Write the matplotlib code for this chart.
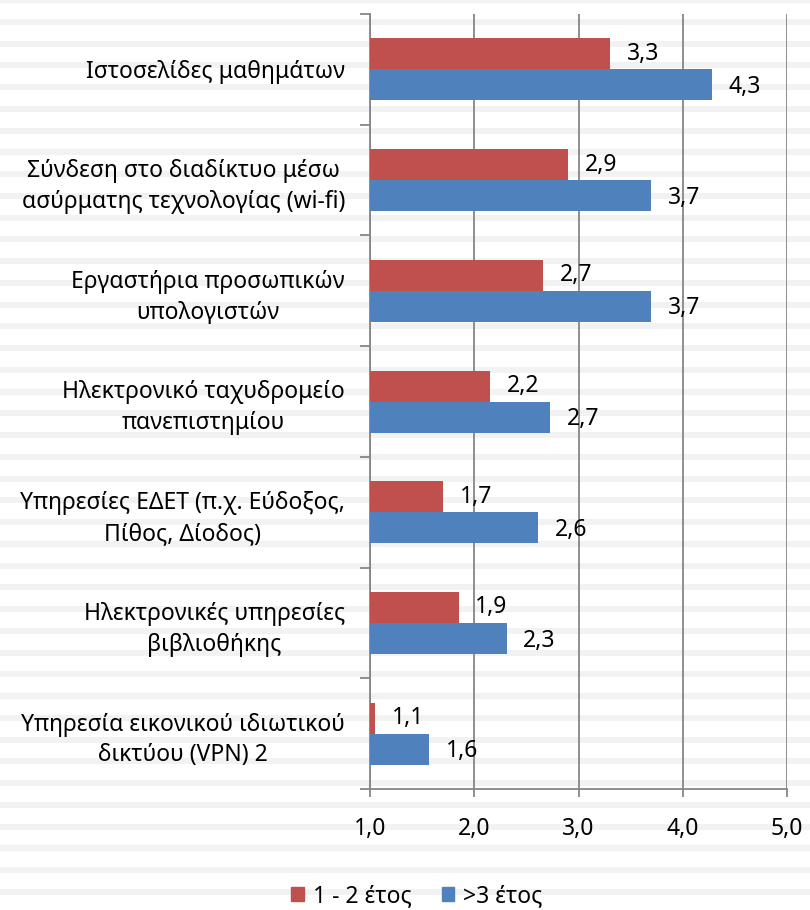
import matplotlib
matplotlib.use("Agg")
import matplotlib.pyplot as plt
from matplotlib.patches import Rectangle
from matplotlib.ticker import FixedLocator
import numpy as np

categories = [
    "Ιστοσελίδες μαθημάτων",
    "Σύνδεση στο διαδίκτυο μέσω\nασύρματης τεχνολογίας (wi-fi)",
    "Εργαστήρια προσωπικών\nυπολογιστών",
    "Ηλεκτρονικό ταχυδρομείο\nπανεπιστημίου",
    "Υπηρεσίες ΕΔΕΤ (π.χ. Εύδοξος,\nΠίθος, Δίοδος)",
    "Ηλεκτρονικές υπηρεσίες\nβιβλιοθήκης",
    "Υπηρεσία εικονικού ιδιωτικού\nδικτύου (VPN) 2",
]
years_1_2 = [3.30, 2.90, 2.66, 2.15, 1.70, 1.85, 1.05]
labels_1_2 = ["3,3", "2,9", "2,7", "2,2", "1,7", "1,9", "1,1"]
years_3 = [4.28, 3.70, 3.70, 2.73, 2.61, 2.31, 1.57]
labels_3 = ["4,3", "3,7", "3,7", "2,7", "2,6", "2,3", "1,6"]
series_names = ["1 - 2 έτος", ">3 έτος"]
xticks = [1.0, 2.0, 3.0, 4.0, 5.0]

RED = "#c0504d"
BLUE = "#4f81bd"
GRID = "#868686"
FS = 16.5

plt.rcParams["font.family"] = ["Noto Sans", "DejaVu Sans"]

W, H = 810, 910
fig = plt.figure(figsize=(W / 100, H / 100), dpi=100)
fig.patch.set_facecolor("white")

# striped slide background
y = 3.0
while y < H + 22:
    fig.add_artist(Rectangle((0, 1 - y / H), 1, 6 / H, transform=fig.transFigure,
                             facecolor="#f2f2f2", edgecolor="none", zorder=0))
    y += 21.75

ax = fig.add_axes([370 / W, 1 - 789 / H, (787 - 370) / W, (789 - 14) / H])
ax.set_facecolor("none")

n = len(categories)
pos = np.arange(n)
bh = 0.28
ax.barh(pos - bh / 2, [v - 1 for v in years_1_2], left=1, height=bh, color=RED, zorder=3)
ax.barh(pos + bh / 2, [v - 1 for v in years_3], left=1, height=bh, color=BLUE, zorder=3)

for i in range(n):
    ax.annotate(labels_1_2[i], (years_1_2[i], pos[i] - bh / 2), xytext=(12, 0),
                textcoords="offset points", va="center", ha="left", fontsize=FS)
    ax.annotate(labels_3[i], (years_3[i], pos[i] + bh / 2), xytext=(12, -1.5),
                textcoords="offset points", va="center", ha="left", fontsize=FS)

ax.set_xlim(1, 5)
ax.set_ylim(n - 0.5, -0.5)
ax.set_xticks(xticks)
ax.set_xticklabels([f"{t:.1f}".replace(".", ",") for t in xticks], fontsize=FS)
ax.tick_params(axis="x", length=6, width=1.3, color=GRID, pad=14)

ax.set_yticks(pos)
ax.set_yticklabels(categories, fontsize=FS, multialignment="center", linespacing=1.38)
ax.tick_params(axis="y", which="major", length=0, pad=18)
ax.yaxis.set_minor_locator(FixedLocator(np.arange(-0.5, n, 1.0)))
ax.tick_params(axis="y", which="minor", length=7, width=1.3, color=GRID)

ax.grid(axis="x", color=GRID, linewidth=1.3, zorder=1)
for s in ["top", "right"]:
    ax.spines[s].set_visible(False)
for s in ["left", "bottom"]:
    ax.spines[s].set_color(GRID)
    ax.spines[s].set_linewidth(1.3)

handles = [Rectangle((0, 0), 1, 1, color=RED), Rectangle((0, 0), 1, 1, color=BLUE)]
fig.legend(handles, series_names, loc="center", bbox_to_anchor=(417 / W, 1 - 896 / H),
           ncol=2, frameon=False, fontsize=FS, handlelength=0.55, handleheight=0.55,
           handletextpad=0.4, columnspacing=1.3)

fig.savefig("out.png", dpi=100)
